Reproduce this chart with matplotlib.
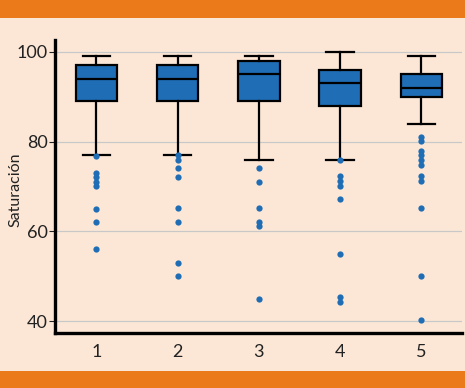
import matplotlib.pyplot as plt
from matplotlib.patches import Rectangle

# box statistics
groups = ["1", "2", "3", "4", "5"]
whis_hi = [99, 99, 99, 100, 99]
q3 = [97, 97, 98, 96, 95]
medians = [94, 94, 95, 93, 92]
q1 = [89, 89, 89, 88, 90]
whis_lo = [77, 77, 76, 76, 84]
fliers = [
    [76.8, 73, 72, 71, 70, 65, 62, 56],
    [77, 76, 74, 72, 65.3, 62.2, 53, 50],
    [74, 71, 65.3, 62, 61.3, 45],
    [76, 72.4, 71.3, 70.2, 67.3, 55, 45.3, 44.3],
    [80.9, 80.1, 78, 77, 76, 74.8, 72.4, 71.3, 65.2, 50, 40.2],
]
ylabel = "Saturación"
yticks = [40, 60, 80, 100]

BG = "#fce7d6"
ORANGE = "#eb7a1a"
BLUE = "#1f6db5"

plt.rcParams['font.family'] = ['Lato', 'DejaVu Sans']

fig = plt.figure(figsize=(4.65, 3.88), dpi=100, facecolor=BG)
fig.patches.append(Rectangle((0, 1 - 18 / 388), 1, 18 / 388, transform=fig.transFigure,
                             facecolor=ORANGE, edgecolor='none'))
fig.patches.append(Rectangle((0, 0), 1, 17 / 388, transform=fig.transFigure,
                             facecolor=ORANGE, edgecolor='none'))

ax = fig.add_axes([0.1183, 0.1418, 0.9935 - 0.1183, 0.897 - 0.1418])
ax.set_facecolor(BG)

stats = []
for i in range(len(groups)):
    stats.append(dict(med=medians[i], q1=q1[i], q3=q3[i], whislo=whis_lo[i],
                      whishi=whis_hi[i], fliers=fliers[i], label=groups[i]))

ax.bxp(stats, positions=range(1, len(groups) + 1), widths=0.51, patch_artist=True,
       boxprops=dict(facecolor=BLUE, edgecolor='black', linewidth=1.6),
       medianprops=dict(color='black', linewidth=1.6),
       whiskerprops=dict(color='black', linewidth=1.6),
       capprops=dict(color='black', linewidth=1.6),
       capwidths=0.34,
       flierprops=dict(marker='o', markerfacecolor=BLUE, markeredgecolor='none',
                       markersize=4.5))

ax.set_xlim(0.49, 5.5)
ax.set_ylim(37.4, 102.6)
ax.set_yticks(yticks)
ax.grid(axis='y', color='#c8c8c8', linewidth=0.9)
ax.set_axisbelow(True)
for s in ['top', 'right']:
    ax.spines[s].set_visible(False)
for s in ['left', 'bottom']:
    ax.spines[s].set_linewidth(2.4)
ax.tick_params(axis='y', length=4, width=0.8, labelsize=13, colors='#222222', pad=1)
ax.tick_params(axis='x', length=0, labelsize=13, colors='#222222', pad=8)
ax.set_ylabel(ylabel, fontsize=11.5, color='#222222')
ax.yaxis.set_label_coords(-0.08, 0.49)

fig.savefig("out.png", dpi=100, facecolor=BG)
